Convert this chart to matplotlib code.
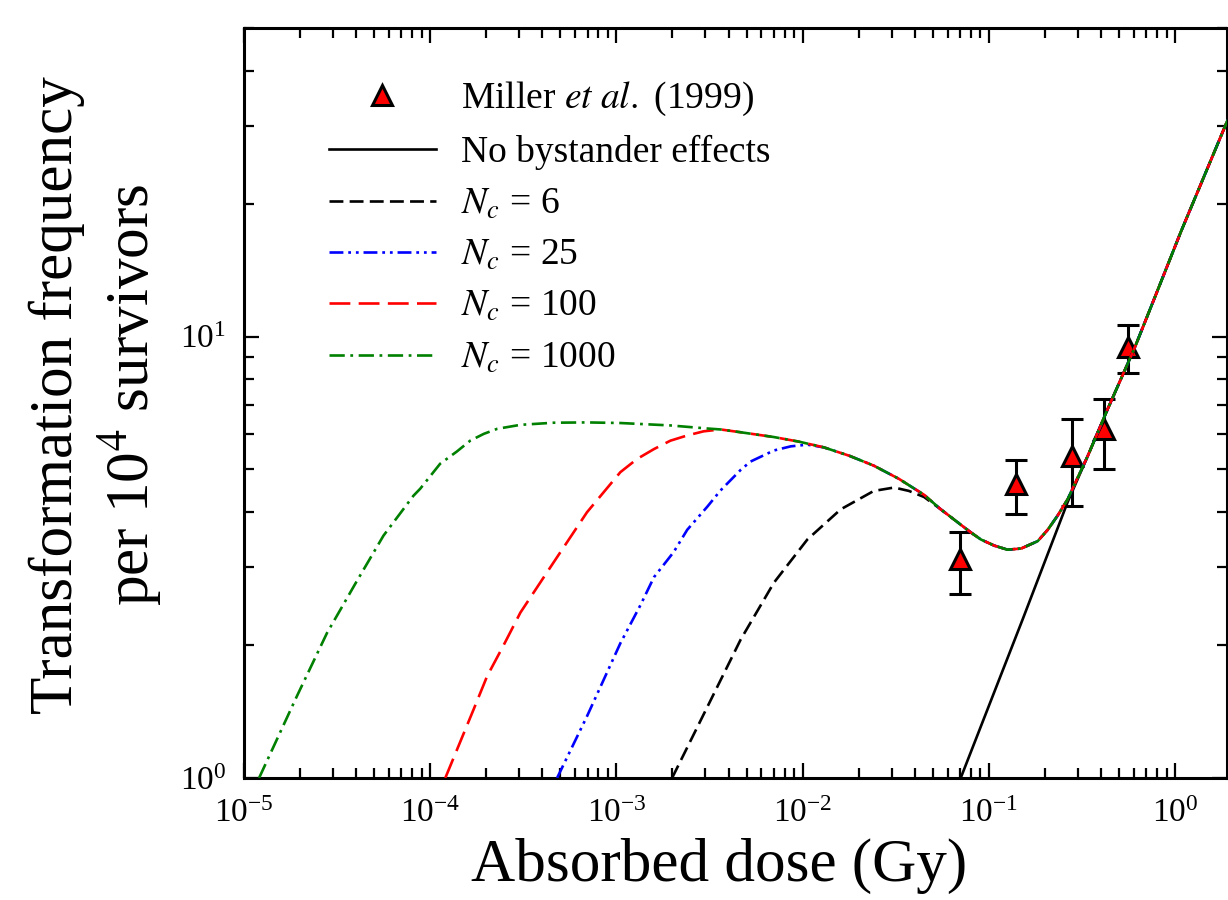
import matplotlib
matplotlib.use("Agg")
import matplotlib.pyplot as plt
import numpy as np
from matplotlib.lines import Line2D
from matplotlib.ticker import LogLocator, NullFormatter

plt.rcParams["font.family"] = "serif"
plt.rcParams["font.serif"] = ["Liberation Serif", "DejaVu Serif"]
plt.rcParams["mathtext.fontset"] = "stix"
plt.rcParams["axes.unicode_minus"] = False
plt.rcParams["lines.scale_dashes"] = False

# Miller et al. (1999) measurements
miller_dose = [0.07, 0.14, 0.28, 0.415, 0.558]
miller_freq = [3.13, 4.63, 5.36, 6.18, 9.49]
miller_hi = [3.6, 5.25, 6.51, 7.23, 10.6]
miller_lo = [2.61, 3.96, 4.13, 5.01, 8.28]

# common upper curve that the N_c curves join
env_dose = [3.62e-3, 4.65e-3, 7.01e-3, 9.55e-3, 1.30e-2, 1.78e-2, 2.41e-2, 3.29e-2,
            4.49e-2, 5.52e-2, 8.0e-2, 9.06e-2, 0.107, 0.126, 0.149, 0.183, 0.207,
            0.234, 0.265, 0.340, 0.435, 0.604, 0.774, 1.076, 1.92]
env_freq = [6.16, 6.07, 5.92, 5.78, 5.61, 5.37, 5.10, 4.76,
            4.38, 4.06, 3.60, 3.47, 3.36, 3.29, 3.31, 3.44, 3.65,
            3.93, 4.28, 5.37, 6.86, 9.39, 12.2, 17.3, 31.0]

# own part of each curve before it joins env (join = index into env)
nobys_dose = [0.0706, 0.152, 0.265]
nobys_freq = [1.0, 2.29, 4.22]
nobys_join = 19

nc6_dose = [1.99e-3, 3.08e-3, 4.65e-3, 7.01e-3, 1.06e-2, 1.60e-2, 2.41e-2, 3.10e-2,
            3.72e-2, 4.49e-2]
nc6_freq = [1.0, 1.45, 2.06, 2.77, 3.47, 4.06, 4.47, 4.55, 4.47, 4.33]
nc6_join = 9

nc25_dose = [4.80e-4, 6.95e-4, 1.05e-3, 1.35e-3, 1.59e-3, 2.03e-3, 2.40e-3, 3.08e-3,
             3.62e-3, 4.65e-3, 5.25e-3, 7.01e-3, 8.63e-3, 1.06e-2]
nc25_freq = [1.0, 1.38, 2.02, 2.47, 2.85, 3.25, 3.65, 4.12, 4.48, 4.99, 5.21, 5.52,
             5.64, 5.69]
nc25_join = 4

nc100_dose = [1.205e-4, 1.71e-4, 2.02e-4, 2.48e-4, 3.05e-4, 3.59e-4, 4.60e-4, 6.95e-4,
              1.05e-3, 1.29e-3, 1.59e-3, 1.95e-3, 2.40e-3, 2.94e-3]
nc100_freq = [1.0, 1.43, 1.70, 2.00, 2.37, 2.63, 3.08, 4.00, 4.93, 5.28, 5.56, 5.81,
              5.97, 6.10]
nc100_join = 0

nc1000_dose = [1.205e-5, 1.92e-5, 2.79e-5, 3.95e-5, 5.61e-5, 8.13e-5, 8.83e-5, 1.13e-4,
               1.39e-4, 1.64e-4, 1.94e-4, 2.29e-4, 3.05e-4, 4.60e-4, 6.95e-4, 1.05e-3,
               1.95e-3, 3.08e-3]
nc1000_freq = [1.0, 1.53, 2.13, 2.75, 3.54, 4.36, 4.52, 5.15, 5.49, 5.81, 6.02, 6.18,
               6.31, 6.38, 6.39, 6.37, 6.29, 6.19]
nc1000_join = 0

legend_labels = ["Miller $\\mathit{et\\ al.}$ (1999)", "No bystander effects",
                 "$N_c$ = 6", "$N_c$ = 25", "$N_c$ = 100", "$N_c$ = 1000"]

fig = plt.figure(figsize=(12.28, 9.0), dpi=100)
ax = fig.add_axes([244 / 1228, 1 - 778 / 900, 983 / 1228, 750 / 900])

lw = 1.9
styles = {
    "nobys": dict(color="black"),
    "nc6": dict(color="black", dashes=(10, 4.5)),
    "nc25": dict(color="blue", dashes=(10, 3.5, 2, 3.5, 2, 3.5)),
    "nc100": dict(color="red", dashes=(15, 6)),
    "nc1000": dict(color="green", dashes=(11, 4, 2, 4)),
}

yerr = [np.array(miller_freq) - np.array(miller_lo), np.array(miller_hi) - np.array(miller_freq)]
ax.errorbar(miller_dose, miller_freq, yerr=yerr, fmt="none", ecolor="black",
            elinewidth=2.2, capsize=8, capthick=2.2, zorder=2)
ax.plot(miller_dose, miller_freq, ls="none", marker="^", ms=15, mfc="red",
        mec="black", mew=2.2, zorder=3)


def full(dose, freq, join):
    return dose + env_dose[join:], freq + env_freq[join:]


curves = [
    ("nobys", nobys_dose, nobys_freq, nobys_join),
    ("nc6", nc6_dose, nc6_freq, nc6_join),
    ("nc25", nc25_dose, nc25_freq, nc25_join),
    ("nc100", nc100_dose, nc100_freq, nc100_join),
    ("nc1000", nc1000_dose, nc1000_freq, nc1000_join),
]
for i, (key, d, f, j) in enumerate(curves):
    x, y = full(d, f, j)
    ax.plot(x, y, lw=lw, zorder=4 + i, **styles[key])

ax.set_xscale("log")
ax.set_yscale("log")
ax.set_xlim(1e-5, 1.9)
ax.set_ylim(1, 50)

ax.xaxis.set_major_locator(LogLocator(base=10, numticks=20))
ax.xaxis.set_minor_locator(LogLocator(base=10, subs=np.arange(2, 10), numticks=100))
ax.xaxis.set_minor_formatter(NullFormatter())
ax.yaxis.set_minor_locator(LogLocator(base=10, subs=np.arange(2, 10), numticks=100))
ax.yaxis.set_minor_formatter(NullFormatter())

for s in ax.spines.values():
    s.set_linewidth(2.2)
ax.tick_params(which="both", direction="in", top=True, right=True, width=1.6)
ax.tick_params(which="major", length=11, labelsize=24)
ax.tick_params(which="minor", length=7)
ax.tick_params(axis="x", which="major", pad=15)
ax.tick_params(axis="y", which="major", pad=13)

fig.text(719 / 1228, 1 - 866 / 900, "Absorbed dose (Gy)", ha="center", va="center", fontsize=44)
fig.text(97 / 1228, 1 - 395 / 900, "Transformation frequency\nper 10$^4$ survivors",
         ha="center", va="center", rotation=90, fontsize=44, linespacing=1.2)

handles = [Line2D([], [], ls="none", marker="^", ms=15, mfc="red", mec="black", mew=2.2)]
for key in ["nobys", "nc6", "nc25", "nc100", "nc1000"]:
    handles.append(Line2D([], [], lw=lw, **styles[key]))
ax.legend(handles, legend_labels, loc="upper left", bbox_to_anchor=(329 / 1228, 1 - 80 / 900),
          bbox_transform=fig.transFigure, frameon=False, fontsize=27, borderpad=0,
          handlelength=2.85, handletextpad=0.67, labelspacing=0.45, borderaxespad=0)

fig.savefig("out.png", dpi=100)
